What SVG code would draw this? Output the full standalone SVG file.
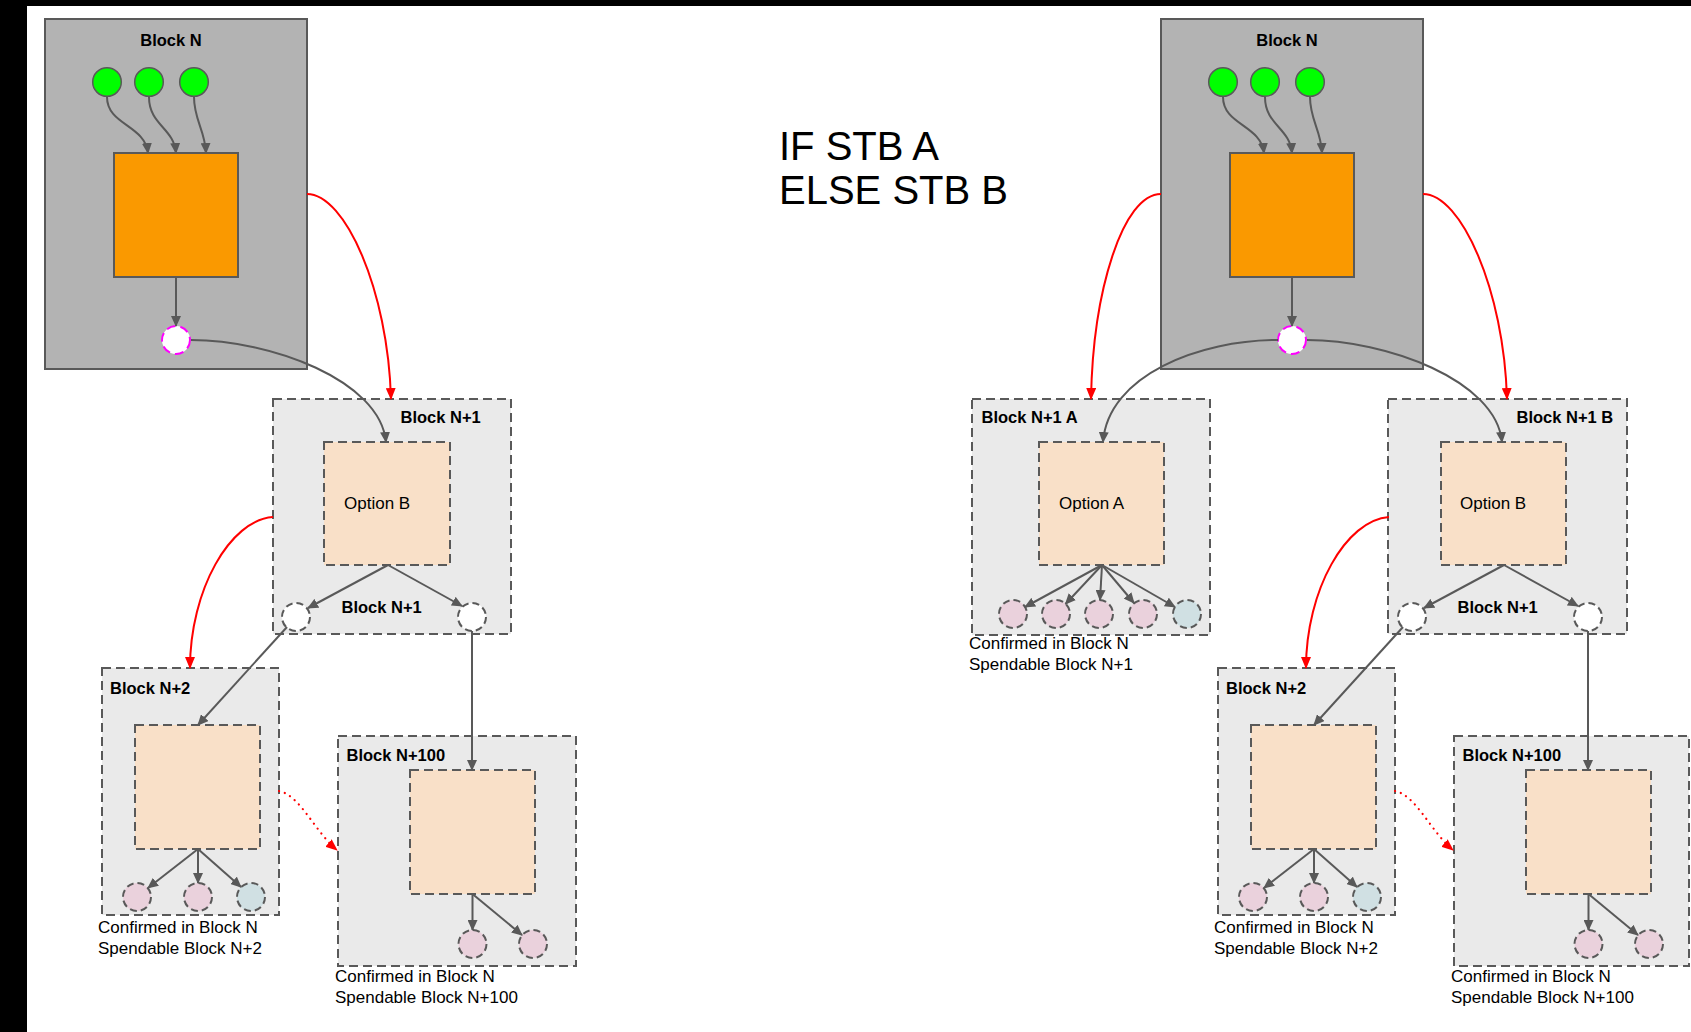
<svg xmlns="http://www.w3.org/2000/svg" width="1691" height="1032" viewBox="0 0 1691 1032">
<defs>
<style>
.blk{fill:#b3b3b3;stroke:#595959;stroke-width:2}
.dblk{fill:#eaeaea;stroke:#595959;stroke-width:2;stroke-dasharray:9 5}
.opt{fill:#f9e0c8;stroke:#595959;stroke-width:2;stroke-dasharray:9 5}
.org{fill:#fa9900;stroke:#595959;stroke-width:2}
.grn{fill:#00ff00;stroke:#595959;stroke-width:1.5}
.mag{fill:#ffffff;stroke:#ff00ff;stroke-width:2;stroke-dasharray:9 5}
.wc{fill:#ffffff;stroke:#595959;stroke-width:2;stroke-dasharray:7 4}
.pc{fill:#ead1dc;stroke:#595959;stroke-width:2;stroke-dasharray:7 4}
.bc{fill:#d0e0e3;stroke:#595959;stroke-width:2;stroke-dasharray:7 4}
.lbl{font-family:"Liberation Sans",Arial,sans-serif;font-weight:bold;font-size:16.5px;fill:#000}
.txt{font-family:"Liberation Sans",Arial,sans-serif;font-size:17px;fill:#000}
.big{font-family:"Liberation Sans",Arial,sans-serif;font-size:40px;fill:#000}
.c{fill:none;stroke:#595959;stroke-width:2;marker-end:url(#ag)}
.r{fill:none;stroke:#ff0000;stroke-width:2;marker-end:url(#ar)}
.rd{fill:none;stroke:#ff0000;stroke-width:2.2;stroke-dasharray:0.1 6;stroke-linecap:round;marker-end:url(#ar)}
</style>
<marker id="ag" markerUnits="userSpaceOnUse" markerWidth="11" markerHeight="10" refX="10" refY="5" orient="auto">
<path d="M0,0 L11,5 L0,10 z" fill="#595959"/>
</marker>
<marker id="ar" markerUnits="userSpaceOnUse" markerWidth="12" markerHeight="10" refX="11" refY="5" orient="auto">
<path d="M0,0 L12,5 L0,10 z" fill="#ff0000"/>
</marker>
</defs>
<rect x="0" y="0" width="1691" height="1032" fill="#ffffff"/>
<rect x="0" y="0" width="1691" height="6" fill="#000"/>
<rect x="0" y="0" width="27" height="1032" fill="#000"/>

<g id="title">
<text class="big" x="779" y="160">IF STB A</text>
<text class="big" x="779" y="204">ELSE STB B</text>
</g>

<!-- LEFT DIAGRAM -->
<g id="blockN-left">
<rect class="blk" x="45" y="19" width="262" height="350"/>
<text class="lbl" x="171" y="45.5" text-anchor="middle">Block N</text>
<circle class="grn" cx="107" cy="82" r="14.3"/>
<circle class="grn" cx="149" cy="82" r="14.3"/>
<circle class="grn" cx="194" cy="82" r="14.3"/>
<rect class="org" x="114" y="153" width="124" height="124"/>
</g>
<g id="out-left"><circle class="mag" cx="176" cy="340" r="14"/></g>

<g id="blockN1-left">
<rect class="dblk" x="273" y="399" width="238" height="235"/>
<text class="lbl" x="400.5" y="422.5">Block N+1</text>
<rect class="opt" x="324" y="442" width="126" height="123"/>
<text class="txt" x="344" y="508.5">Option B</text>
<text class="lbl" x="341.5" y="613">Block N+1</text>
<circle class="wc" cx="296" cy="617" r="14"/>
<circle class="wc" cx="472" cy="617" r="14"/>
</g>

<g id="blockN2-left">
<rect class="dblk" x="102" y="668" width="177" height="247"/>
<text class="lbl" x="110" y="693.5">Block N+2</text>
<rect class="opt" x="135" y="725" width="125" height="124"/>
<circle class="pc" cx="137" cy="897" r="14"/>
<circle class="pc" cx="198" cy="897" r="14"/>
<circle class="bc" cx="251" cy="897" r="14"/>
<text class="txt" x="98" y="932.5">Confirmed in Block N</text>
<text class="txt" x="98" y="953.5">Spendable Block N+2</text>
</g>

<g id="blockN100-left">
<rect class="dblk" x="338" y="736" width="238" height="230"/>
<text class="lbl" x="346.5" y="760.5">Block N+100</text>
<rect class="opt" x="410" y="770" width="125" height="124"/>
<circle class="pc" cx="472.5" cy="944" r="14"/>
<circle class="pc" cx="533" cy="944" r="14"/>
<text class="txt" x="335" y="981.5">Confirmed in Block N</text>
<text class="txt" x="335" y="1003">Spendable Block N+100</text>
</g>

<!-- RIGHT DIAGRAM -->
<g id="blockN-right">
<rect class="blk" x="1161" y="19" width="262" height="350"/>
<text class="lbl" x="1287" y="45.5" text-anchor="middle">Block N</text>
<circle class="grn" cx="1223" cy="82" r="14.3"/>
<circle class="grn" cx="1265" cy="82" r="14.3"/>
<circle class="grn" cx="1310" cy="82" r="14.3"/>
<rect class="org" x="1230" y="153" width="124" height="124"/>
</g>

<g id="blockN1A-right">
<rect class="dblk" x="972" y="399" width="238" height="236"/>
<text class="lbl" x="981.5" y="422.5">Block N+1 A</text>
<rect class="opt" x="1039" y="442" width="125" height="123"/>
<text class="txt" x="1059" y="508.5">Option A</text>
<circle class="pc" cx="1013" cy="614" r="14"/>
<circle class="pc" cx="1056" cy="614" r="14"/>
<circle class="pc" cx="1099" cy="614" r="14"/>
<circle class="pc" cx="1143" cy="614" r="14"/>
<circle class="bc" cx="1187" cy="614" r="14"/>
<text class="txt" x="969" y="648.5">Confirmed in Block N</text>
<text class="txt" x="969" y="669.5">Spendable Block N+1</text>
</g>

<g id="blockN1B-right">
<rect class="dblk" x="1388" y="399" width="239" height="235"/>
<text class="lbl" x="1516.5" y="422.5">Block N+1 B</text>
<rect class="opt" x="1441" y="442" width="125" height="123"/>
<text class="txt" x="1460" y="508.5">Option B</text>
<text class="lbl" x="1457.5" y="613">Block N+1</text>
<circle class="wc" cx="1412" cy="617" r="14"/>
<circle class="wc" cx="1588" cy="617" r="14"/>
</g>

<g id="blockN2-right">
<rect class="dblk" x="1218" y="668" width="177" height="247"/>
<text class="lbl" x="1226" y="693.5">Block N+2</text>
<rect class="opt" x="1251" y="725" width="125" height="124"/>
<circle class="pc" cx="1253" cy="897" r="14"/>
<circle class="pc" cx="1314" cy="897" r="14"/>
<circle class="bc" cx="1367" cy="897" r="14"/>
<text class="txt" x="1214" y="932.5">Confirmed in Block N</text>
<text class="txt" x="1214" y="953.5">Spendable Block N+2</text>
</g>

<g id="blockN100-right">
<rect class="dblk" x="1454" y="736" width="235" height="230"/>
<text class="lbl" x="1462.5" y="760.5">Block N+100</text>
<rect class="opt" x="1526" y="770" width="125" height="124"/>
<circle class="pc" cx="1588.5" cy="944" r="14"/>
<circle class="pc" cx="1649" cy="944" r="14"/>
<text class="txt" x="1451" y="981.5">Confirmed in Block N</text>
<text class="txt" x="1451" y="1003">Spendable Block N+100</text>
</g>

<g id="connectors">
<!-- left -->
<path class="c" d="M107,97 C107,125 145,125 148,153"/>
<path class="c" d="M149,97 C149,125 174,128 176,153"/>
<path class="c" d="M194,97 C194,120 205,130 206,153"/>
<path class="c" d="M176,277 L176,326"/>
<path class="c" d="M191,340 C270,340 380,380 386,442"/>
<path class="r" d="M307,194 C345,194 388,290 391,399"/>
<path class="r" d="M273,517 C230,520 190,590 190,668"/>
<path class="c" d="M388,565 L308,608"/>
<path class="c" d="M388,565 L462,606"/>
<path class="c" d="M287,627 L198,725"/>
<path class="c" d="M472,631 L472,770"/>
<path class="c" d="M198,849 L148,888"/>
<path class="c" d="M198,849 L198,883"/>
<path class="c" d="M198,849 L241,887"/>
<path class="c" d="M472.5,894 L472.5,930"/>
<path class="c" d="M472.5,894 L522,935"/>
<path class="rd" d="M279,791 C300,795 315,832 337,850"/>
</g>
<g id="out-right"><circle class="mag" cx="1292" cy="340" r="14"/></g>
<g id="connectors-right">
<path class="c" d="M1223,97 C1223,125 1261,125 1264,153"/>
<path class="c" d="M1265,97 C1265,125 1290,128 1292,153"/>
<path class="c" d="M1310,97 C1310,120 1321,130 1322,153"/>
<path class="c" d="M1292,277 L1292,326"/>
<path class="c" d="M1307,340 C1386,340 1496,380 1502,442"/>
<path class="c" d="M1278,340 C1200,340 1108,375 1103,442"/>
<path class="r" d="M1423,194 C1461,194 1504,290 1507,399"/>
<path class="r" d="M1161,194 C1123,194 1093,290 1091,399"/>
<path class="r" d="M1389,517 C1346,520 1306,590 1306,668"/>
<path class="c" d="M1102,565 L1025,607"/>
<path class="c" d="M1102,565 L1065.5,604"/>
<path class="c" d="M1102,565 L1100,600"/>
<path class="c" d="M1102,565 L1134,603"/>
<path class="c" d="M1102,565 L1175,607"/>
<path class="c" d="M1504,565 L1424,608"/>
<path class="c" d="M1504,565 L1578,606"/>
<path class="c" d="M1403,627 L1314,725"/>
<path class="c" d="M1588,631 L1588,770"/>
<path class="c" d="M1314,849 L1264,888"/>
<path class="c" d="M1314,849 L1314,883"/>
<path class="c" d="M1314,849 L1357,887"/>
<path class="c" d="M1588.5,894 L1588.5,930"/>
<path class="c" d="M1588.5,894 L1638,935"/>
<path class="rd" d="M1395,791 C1416,795 1431,832 1453,850"/>
</g>
</svg>
